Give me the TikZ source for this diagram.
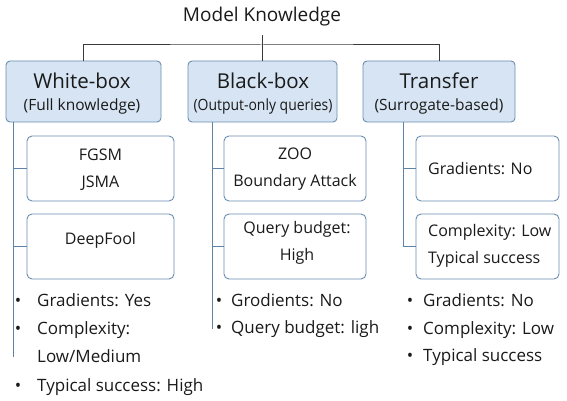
\documentclass[tikz,border=0pt]{standalone}
\usepackage{fontspec}
\setmainfont{Open Sans}
\definecolor{hdrfill}{HTML}{D6E4F3}
\definecolor{hdrline}{HTML}{6A8DB0}
\definecolor{spine}{HTML}{5E83A8}
\definecolor{ink}{HTML}{1A1A1A}
\definecolor{trunk}{HTML}{3A3A3A}
\newcommand{\bdot}{{\fontsize{17}{17}\selectfont •}}
\tikzset{
  hdrbox/.style={draw=hdrline, fill=hdrfill, rounded corners=4pt, line width=0.9pt, inner sep=0pt},
  subbox/.style={draw=hdrline, fill=white, rounded corners=5pt, line width=0.9pt, inner sep=0pt},
  txt/.style={text=ink, inner sep=0pt, font=\fontsize{16}{27}\selectfont, align=center},
  big/.style={text=ink, inner sep=0pt, font=\fontsize{20.5}{24}\selectfont},
  sub/.style={text=ink, inner sep=0pt, font=\fontsize{15.5}{18}\selectfont},
  bul/.style={text=ink, inner sep=0pt, anchor=base west, font=\fontsize{17}{19}\selectfont},
  dotn/.style={text=ink, inner sep=0pt, anchor=base},
  spineline/.style={draw=spine, line width=0.9pt},
  trunkline/.style={draw=trunk, line width=1pt},
}
\begin{document}
\begin{tikzpicture}[x=1pt,y=-1pt]
\useasboundingbox (0,0) rectangle (567,401);
% title
\node[text=ink, inner sep=0pt, font=\fontsize{19}{22}\selectfont] (title) at (262,17) {Model Knowledge};
\coordinate (tdrop) at (262,35);
\coordinate (j) at (262,45);
% headers
\node[hdrbox, minimum width=155pt, minimum height=61pt] (wb) at (83.5,91.5) {};
\node[hdrbox, minimum width=149pt, minimum height=61pt] (bb) at (262.5,91.5) {};
\node[hdrbox, minimum width=152pt, minimum height=61pt] (tr) at (439,91.5) {};
\node[big] (wbt) at (82,81) {White-box};
\node[sub] (wbs) at (82,106) {(Full knowledge)};
\node[big] (bbt) at (263,81) {Black-box};
\node[sub] (bbs) at (263,106) {\scalebox{0.9}[1]{(Output-only queries)}};
\node[big] (trt) at (439,81) {Transfer};
\node[sub] (trs) at (439,106) {(Surrogate-based)};
\draw[trunkline] (tdrop) -- (j);
\draw[trunkline] (wb.north) |- (j) -| (tr.north);
\draw[trunkline] (bb.north) -- (bb.north |- j);
% column 1
\coordinate (s1t) at (13,122);
\coordinate (s1b) at (13,357);
\node[subbox, minimum width=147pt, minimum height=65pt] (b11) at (100.5,168.5) {};
\node[subbox, minimum width=147pt, minimum height=65pt] (b12) at (100.5,246.5) {};
\node[txt] (b11t) at (100.5,169.5) {FGSM\\JSMA};
\node[txt] (b12t) at (100.5,240) {DeepFool};
\draw[spineline] (s1t) -- (s1b);
\draw[spineline] (b11.west) -- (b11.west -| s1t);
\draw[spineline] (b12.west) -- (b12.west -| s1t);
\node[dotn] (d11) at (18,306) {\bdot};
\node[bul] (l11) at (37,306) {Gradients: Yes};
\node[dotn] (d12) at (18,334) {\bdot};
\node[bul] (l12) at (37,334) {Complexity:};
\node[bul] (l13) at (37,362) {Low/Medium};
\node[dotn] (d14) at (18,391) {\bdot};
\node[bul] (l14) at (37,391) {Typical success: High};
% column 2
\coordinate (s2t) at (212,122);
\coordinate (s2b) at (212,329);
\node[subbox, minimum width=142pt, minimum height=65pt] (b21) at (295,168.5) {};
\node[subbox, minimum width=142pt, minimum height=65pt] (b22) at (295,246.5) {};
\node[txt] (b21t) at (295,169.5) {ZOO\\Boundary Attack};
\node[txt] (b22t) at (297,243) {Query budget:\\High};
\draw[spineline] (s2t) -- (s2b);
\draw[spineline] (b21.west) -- (b21.west -| s2t);
\draw[spineline] (b22.west) -- (b22.west -| s2t);
\node[dotn] (d21) at (219,306) {\bdot};
\node[bul] (l21) at (231,306) {Grodients: No};
\node[dotn] (d22) at (219,333) {\bdot};
\node[bul] (l22) at (231,333) {Query budget: ligh};
% column 3
\coordinate (s3t) at (403,122);
\node[subbox, minimum width=143pt, minimum height=65pt] (b31) at (487.5,168.5) {};
\node[subbox, minimum width=143pt, minimum height=65pt] (b32) at (487.5,246.5) {};
\node[txt, anchor=west] (b31t) at (428,169) {Gradients: No};
\node[txt, anchor=west, align=left] (b32t) at (428,246) {Complexity: Low\\Typical success};
\draw[spineline] (s3t) -- (s3t |- b32.west) -- (b32.west);
\draw[spineline] (b31.west) -- (b31.west -| s3t);
\node[dotn] (d31) at (410,306) {\bdot};
\node[bul] (l31) at (423,306) {Gradients: No};
\node[dotn] (d32) at (410,334) {\bdot};
\node[bul] (l32) at (423,334) {Complexity: Low};
\node[dotn] (d33) at (410,361) {\bdot};
\node[bul] (l33) at (423,361) {Typical success};
\end{tikzpicture}
\end{document}
